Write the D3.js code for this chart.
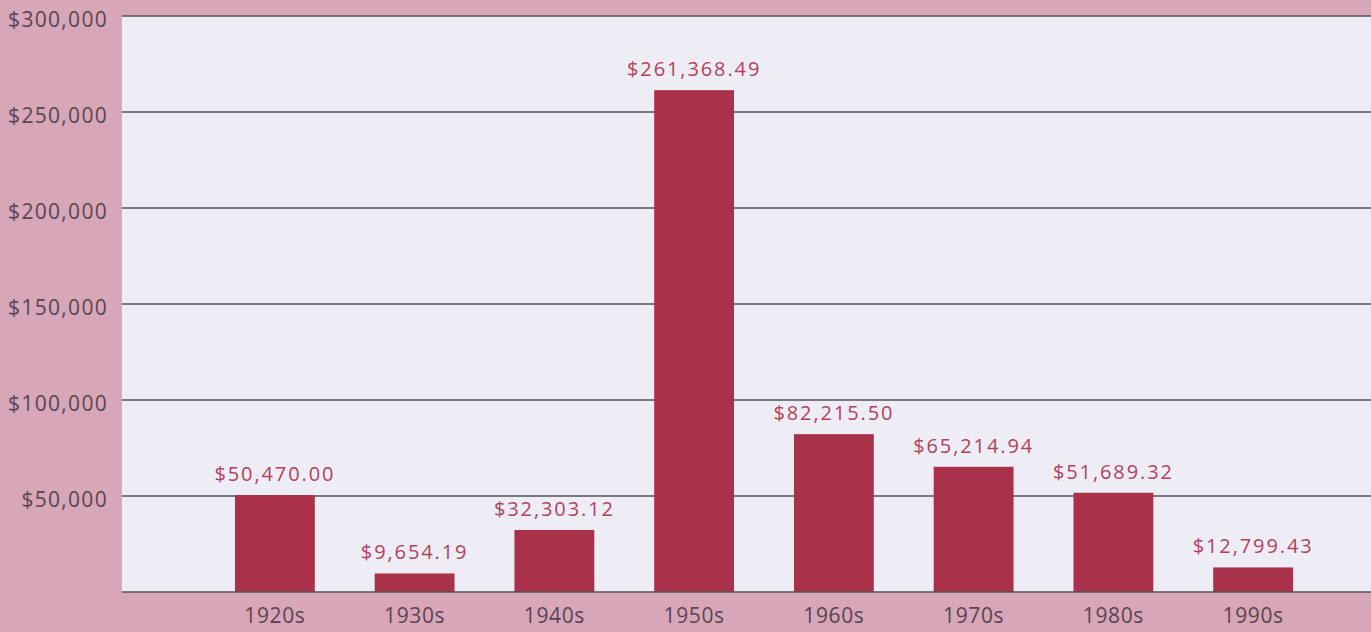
<!DOCTYPE html>
<html>
<head>
<meta charset="utf-8">
<script src="https://cdn.jsdelivr.net/npm/d3@7"></script>
<style>
  html, body { margin: 0; padding: 0; background: #d7a6b8; }
  svg { display: block; }
  text { font-family: "Open Sans", "DejaVu Sans", sans-serif; }
</style>
</head>
<body>
<div id="chart"></div>
<script>
// decades and totals
const decades = ["1920s", "1930s", "1940s", "1950s", "1960s", "1970s", "1980s", "1990s"];
const totals = [50470.00, 9654.19, 32303.12, 261368.49, 82215.50, 65214.94, 51689.32, 12799.43];
const yTicks = [50000, 100000, 150000, 200000, 250000, 300000];

const W = 1371, H = 632;
const margin = { top: 16, right: 0, bottom: 40, left: 122 };

let svg = d3.select("#chart").append("svg")
  .attr("width", W)
  .attr("height", H);

// plot panel
svg.append("rect")
  .attr("x", margin.left)
  .attr("y", margin.top)
  .attr("width", W - margin.left)
  .attr("height", H - margin.bottom - margin.top)
  .attr("fill", "#eeedf5");

let y = d3.scaleLinear().domain([0, 300000]).range([H - margin.bottom, margin.top]);
let x = d3.scaleBand().domain(decades).range([205, 1323])
  .paddingInner(0.4286).paddingOuter(0.2143);

let fmtTick = d3.format("$,");
let fmtVal = d3.format("$,.2f");

// grid lines + labels
let grid = svg.append("g").attr("class", "grid");
grid.selectAll("line")
  .data(yTicks).enter()
  .append("line")
    .attr("x1", margin.left)
    .attr("x2", W)
    .attr("y1", d => y(d))
    .attr("y2", d => y(d))
    .attr("stroke", "#55505a")
    .attr("stroke-width", 1.3);

grid.selectAll("text")
  .data(yTicks).enter()
  .append("text")
    .attr("x", 108)
    .attr("y", d => y(d))
    .attr("dy", "0.5em")
    .attr("text-anchor", "end")
    .attr("font-size", 21)
    .attr("letter-spacing", 1.3)
    .attr("fill", "#5b4452")
    .text(d => fmtTick(d));

// bars
svg.append("g").selectAll("rect")
  .data(totals).enter()
  .append("rect")
    .attr("x", (d, i) => x(decades[i]))
    .attr("y", d => y(d))
    .attr("width", x.bandwidth())
    .attr("height", d => y(0) - y(d))
    .attr("fill", "#a9324a");

// baseline
svg.append("line")
  .attr("x1", margin.left).attr("x2", W)
  .attr("y1", y(0)).attr("y2", y(0))
  .attr("stroke", "#55505a").attr("stroke-width", 1.5);

// value labels
svg.append("g").selectAll("text")
  .data(totals).enter()
  .append("text")
    .attr("x", (d, i) => x(decades[i]) + x.bandwidth() / 2)
    .attr("y", d => y(d) - 14)
    .attr("text-anchor", "middle")
    .attr("font-size", 20)
    .attr("letter-spacing", 1.9)
    .attr("fill", "#b0425d")
    .text(d => fmtVal(d));

// decade labels
svg.append("g").selectAll("text")
  .data(decades).enter()
  .append("text")
    .attr("x", d => x(d) + x.bandwidth() / 2)
    .attr("y", 623)
    .attr("text-anchor", "middle")
    .attr("font-size", 21)
    .attr("letter-spacing", 0.6)
    .attr("fill", "#5b4452")
    .text(d => d);
</script>
</body>
</html>
